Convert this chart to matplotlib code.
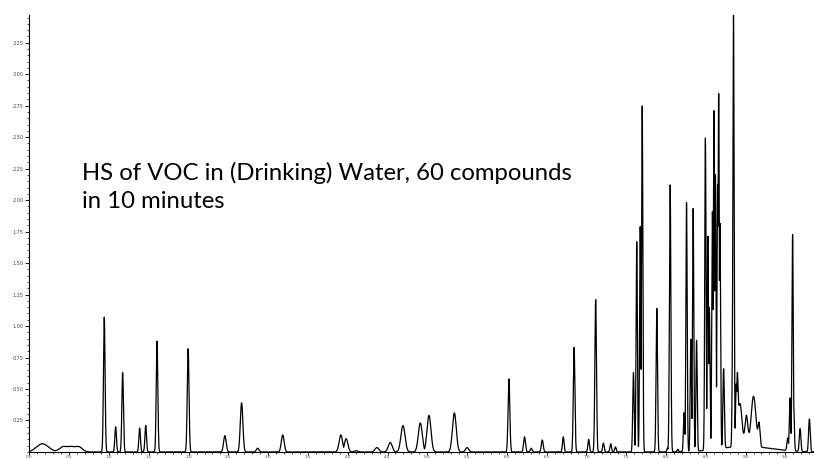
import numpy as np
import matplotlib
matplotlib.use("Agg")
import matplotlib.pyplot as plt
from matplotlib.ticker import MultipleLocator

# Peak list (retention time in min, height, sigma in min)
peak_times = [0.940, 1.083, 1.171, 1.385, 1.461, 1.603, 1.994, 2.456, 2.666, 2.868,
              3.183, 3.913, 3.980, 4.106, 4.367, 4.534, 4.694, 4.912, 5.021, 5.340,
              5.500, 6.026, 6.222, 6.306, 6.445, 6.709, 6.845, 7.028, 7.116, 7.213,
              7.305, 7.364, 7.591, 7.632, 7.676, 7.701, 7.884, 8.019, 8.052, 8.149,
              8.228, 8.258, 8.312, 8.341, 8.384, 8.495, 8.526, 8.545, 8.583, 8.602,
              8.621, 8.649, 8.662, 8.678, 8.724, 8.841, 8.848, 8.883, 8.896, 9.530,
              9.559, 9.591, 9.604, 9.685, 9.802]
peak_heights = [1.07, 0.20, 0.63, 0.19, 0.21, 0.88, 0.82, 0.13, 0.39, 0.03,
                0.135, 0.135, 0.105, 0.01, 0.035, 0.075, 0.21, 0.23, 0.29, 0.31,
                0.035, 0.58, 0.12, 0.03, 0.095, 0.12, 0.83, 0.10, 1.21, 0.07,
                0.065, 0.04, 0.63, 1.67, 1.79, 2.75, 1.14, 0.03, 2.12, 0.02,
                0.31, 1.98, 0.89, 1.93, 0.88, 2.48, 1.70, 1.13, 1.89, 2.69,
                2.18, 2.10, 2.82, 1.79, 0.63, 1.25, 3.46, 0.44, 0.45, 0.10,
                0.42, 1.72, 0.38, 0.18, 0.26]
peak_widths = [0.010, 0.010, 0.010, 0.010, 0.010, 0.010, 0.011, 0.016, 0.016, 0.016,
               0.018, 0.022, 0.022, 0.02, 0.025, 0.025, 0.026, 0.025, 0.025, 0.024,
               0.02, 0.011, 0.012, 0.012, 0.012, 0.010, 0.010, 0.010, 0.010, 0.010,
               0.010, 0.010, 0.009, 0.008, 0.008, 0.008, 0.009, 0.008, 0.009, 0.008,
               0.009, 0.008, 0.008, 0.008, 0.008, 0.008, 0.008, 0.008, 0.008, 0.008,
               0.008, 0.008, 0.008, 0.008, 0.009, 0.008, 0.008, 0.009, 0.009, 0.010,
               0.009, 0.008, 0.008, 0.010, 0.010]

# Broad humps / raised baseline (time, height, sigma)
hump_times = [0.164, 0.42, 0.52, 0.62, 8.93, 9.01, 9.10, 9.17, 9.00]
hump_heights = [0.065, 0.040, 0.038, 0.040, 0.34, 0.24, 0.40, 0.17, 0.045]
hump_widths = [0.075, 0.045, 0.045, 0.045, 0.025, 0.018, 0.03, 0.012, 0.32]

title_lines = ["HS of VOC in (Drinking) Water, 60 compounds", "in 10 minutes"]

t = np.linspace(0, 9.86, 12000)
sharp = np.zeros_like(t)
for c, h, w in zip(peak_times, peak_heights, peak_widths):
    sharp = np.maximum(sharp, h * np.exp(-0.5 * ((t - c) / w) ** 2))
broad = np.zeros_like(t)
for c, h, w in zip(hump_times, hump_heights, hump_widths):
    broad += h * np.exp(-0.5 * ((t - c) / w) ** 2)
signal = sharp + broad

fig = plt.figure(figsize=(8.14, 4.59), dpi=100)
ax = fig.add_axes([0.0362, 0.0153, 0.9638, 0.952])
ax.plot(t, signal, color="black", lw=0.9)

ax.set_xlim(0, 9.86)
ax.set_ylim(0, 3.47)
ax.spines["top"].set_visible(False)
ax.spines["right"].set_visible(False)
ax.spines["left"].set_linewidth(0.8)
ax.spines["bottom"].set_linewidth(0.8)

ax.set_yticks(np.arange(0.25, 3.3, 0.25))
ax.set_yticklabels([f"{v:.2f}" for v in np.arange(0.25, 3.3, 0.25)])
ax.yaxis.set_minor_locator(MultipleLocator(0.05))
ax.set_xticks(np.arange(0, 9.9, 0.5))
ax.set_xticklabels([f"{v:.1f}" for v in np.arange(0, 9.9, 0.5)])
ax.xaxis.set_minor_locator(MultipleLocator(0.1))
ax.tick_params(which="major", direction="out", length=3, width=0.6,
               labelsize=3.5, labelcolor="#444444", pad=1.5)
ax.tick_params(axis="x", which="major", length=2, labelsize=3, pad=0.3)
ax.tick_params(which="minor", direction="out", length=1.5, width=0.5)

fig.text(82 / 814, 1 - 180 / 459, title_lines[0], family="Lato",
         fontsize=17.2, va="baseline", ha="left", color="black")
fig.text(82 / 814, 1 - 208 / 459, title_lines[1], family="Lato",
         fontsize=17.2, va="baseline", ha="left", color="black")

fig.savefig("out.png", dpi=100)
